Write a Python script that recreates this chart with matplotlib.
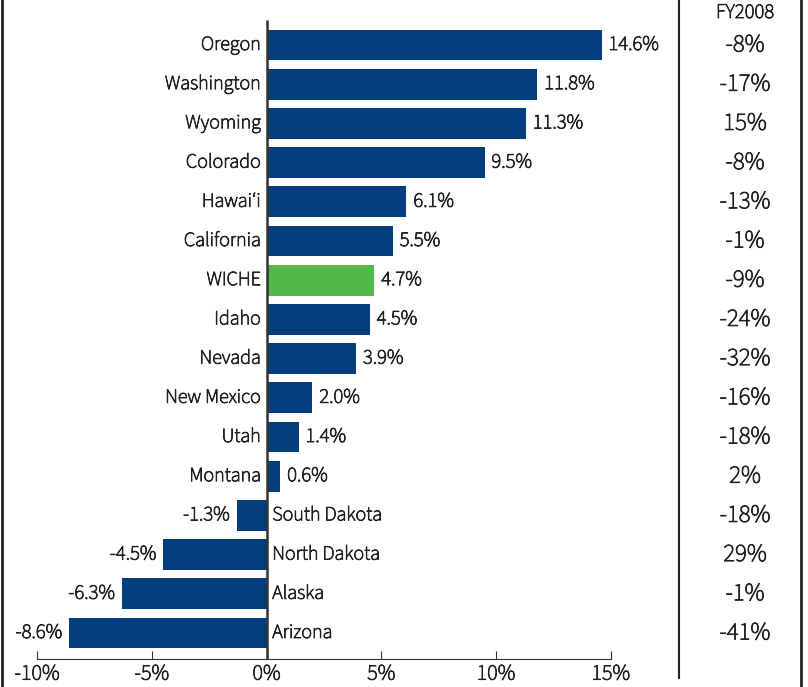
import matplotlib.pyplot as plt
import matplotlib.patheffects as pe
from matplotlib.lines import Line2D

plt.rcParams['font.family'] = ['Source Sans 3', 'Source Sans Pro', 'Asap Condensed', 'DejaVu Sans']
plt.rcParams['font.weight'] = 'medium'

# data
states = ['Oregon', 'Washington', 'Wyoming', 'Colorado', 'Hawai\u2018i', 'California',
          'WICHE', 'Idaho', 'Nevada', 'New Mexico', 'Utah', 'Montana',
          'South Dakota', 'North Dakota', 'Alaska', 'Arizona']
change = [14.6, 11.8, 11.3, 9.5, 6.1, 5.5, 4.7, 4.5, 3.9, 2.0, 1.4, 0.6,
          -1.3, -4.5, -6.3, -8.6]
fy2008 = [-8, -17, 15, -8, -13, -1, -9, -24, -32, -16, -18, 2, -18, 29, -1, -41]
ticks = [-10, -5, 0, 5, 10, 15]

W, H = 808, 687
navy = '#033e7c'
green = '#52b947'
txt = '#231f20'
bold = [pe.withStroke(linewidth=0.6, foreground=txt)]

fig = plt.figure(figsize=(W / 100, H / 100), dpi=100)
# axes placed in pixels: left 0, right 680, top 0, bottom 659
ax = fig.add_axes([0, (H - 659) / H, 680 / W, 659 / H])

px = 22.95  # pixels per percent
x0 = 266.5
ax.set_xlim(-x0 / px, (680 - x0) / px)
row0, step = 45, 39.2
ax.set_ylim((659 - row0) / step, -row0 / step)

y = list(range(len(states)))
colors = [green if s == 'WICHE' else navy for s in states]
ax.barh(y, change, height=0.79, color=colors)

fs = 14.5
for i, (s, v) in enumerate(zip(states, change)):
    if v >= 0:
        ax.text(-0.25, i, s, ha='right', va='center', fontsize=fs, color=txt, path_effects=bold)
        ax.text(v + 0.3, i, f'{v:.1f}%', ha='left', va='center', fontsize=fs + 0.5,
                color=txt, path_effects=bold)
    else:
        ax.text(0.25, i, s, ha='left', va='center', fontsize=fs, color=txt, path_effects=bold)
        ax.text(v - 0.3, i, f'{v:.1f}%', ha='right', va='center', fontsize=fs + 0.5,
                color=txt, path_effects=bold)

ax.vlines(0, -0.64, (659 - row0) / step, color='#333333', lw=1.8)

for sp in ['left', 'right', 'top']:
    ax.spines[sp].set_visible(False)
ax.spines['bottom'].set_bounds(-10, 15)
ax.spines['bottom'].set_color('#333333')
ax.set_yticks([])
ax.set_xticks(ticks)
ax.set_xticklabels([f'{t}%' for t in ticks], fontsize=16, color=txt)
for lab in ax.get_xticklabels():
    lab.set_path_effects(bold)
ax.tick_params(axis='x', direction='in', length=6, color='#333333', pad=3)
ax.patch.set_visible(False)

# FY2008 column
tcol = 745 / W
fig.text(tcol, 1 - 13 / H, 'FY2008', ha='center', va='center', fontsize=15, color=txt,
         path_effects=bold)
for i, v in enumerate(fy2008):
    yy = 1 - (row0 + step * i) / H
    fig.text(tcol, yy, f'{v}%', ha='center', va='center', fontsize=18, color=txt,
             path_effects=bold)

# separator and borders
fig.add_artist(Line2D([679 / W, 679 / W], [1, 1 - 678 / H], transform=fig.transFigure,
                      color='#222222', lw=1.5))
fig.add_artist(Line2D([1.5 / W, 1.5 / W], [0, 1], transform=fig.transFigure,
                      color='#222222', lw=2))
fig.add_artist(Line2D([801 / W, 801 / W], [0, 1], transform=fig.transFigure,
                      color='#222222', lw=2))

fig.savefig('out.png', dpi=100)
